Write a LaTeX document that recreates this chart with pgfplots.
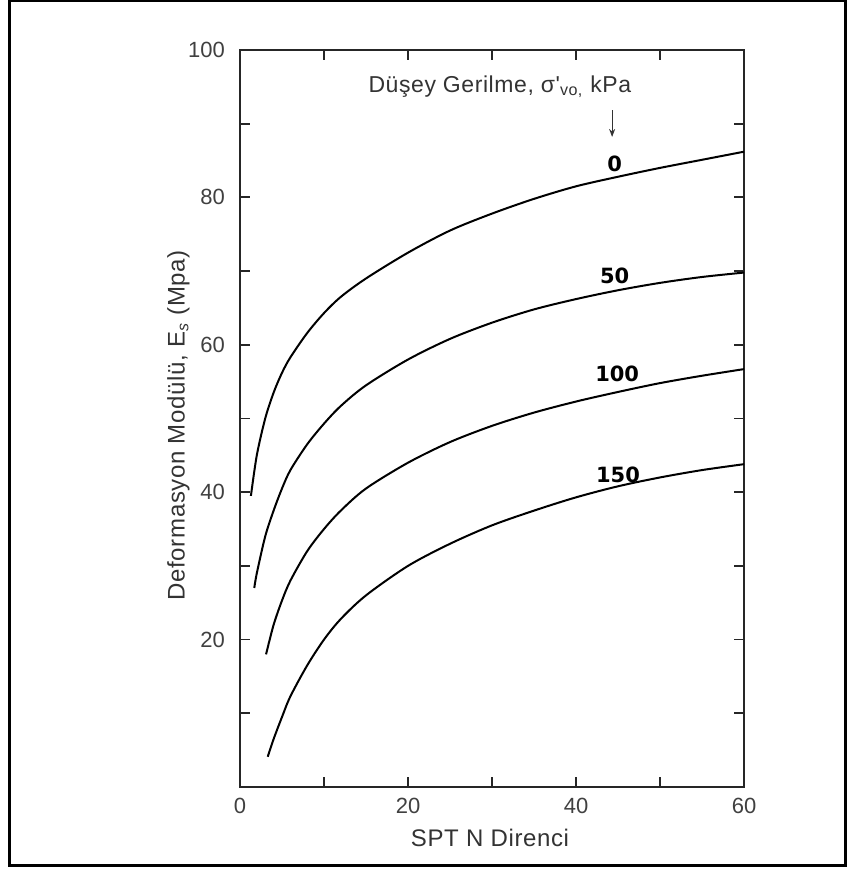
\documentclass[border=0pt]{standalone}
\usepackage{fontspec}
\setmainfont{Liberation Sans}
\newfontfamily\lblfont{DejaVu Sans}
\newfontfamily\widefont{Liberation Sans}[LetterSpace=2.5]
\usepackage{pgfplots}
\pgfplotsset{compat=1.18}
\usetikzlibrary{arrows.meta}
\begin{document}
\begin{tikzpicture}
\begin{axis}[
  at={(0pt,0pt)}, anchor=south west,
  scale only axis, width=252pt, height=368.5pt,
  xmin=0, xmax=60, ymin=0, ymax=100,
  xtick={0,20,40,60}, minor xtick={10,30,50},
  ytick={20,40,60,80,100}, minor ytick={10,30,50,70,90},
  tick align=inside, major tick length=5pt, minor tick length=5pt,
  every tick/.style={black!85, line width=0.9pt},
  axis line style={black!85, line width=1.3pt},
  /pgf/number format/assume math mode=true,
  every tick label/.append style={font=\fontsize{11}{13}\selectfont, text=black!75},
  yticklabel style={xshift=-4pt},
  xticklabel style={yshift=-2pt},
  label style={font=\widefont\fontsize{12}{14}\selectfont, text=black!80},
  xlabel={SPT N Direnci},
  ylabel={Deformasyon Modülü, E\textsubscript{\textit{s}} (Mpa)},
  xlabel style={at={(axis description cs:0.496,-0.069)}, anchor=center},
  ylabel style={at={(axis description cs:-0.122,0.491)}, anchor=center},
  clip=false,
]
% effective vertical stress 0 kPa
\addplot[smooth, black, line width=1pt] coordinates {
  (1.3,39.5) (2,45) (3,50) (4,53.5) (5,56.2) (6,58.3) (8,61.6) (10,64.3)
  (12,66.5) (15,69) (20,72.5) (25,75.5) (30,77.8) (35,79.8) (40,81.5)
  (45,82.8) (50,84) (55,85.1) (60,86.2)};
% 50 kPa
\addplot[smooth, black, line width=1pt] coordinates {
  (1.7,27) (2,29) (3,34) (4,37.5) (5,40.5) (6,43) (8,46.5) (10,49.3)
  (12,51.7) (15,54.5) (20,58) (25,60.8) (30,63) (35,64.8) (40,66.2)
  (45,67.4) (50,68.4) (55,69.2) (60,69.8)};
% 100 kPa
\addplot[smooth, black, line width=1pt] coordinates {
  (3.1,18) (4,22) (5,25.3) (6,28) (8,32) (10,35) (12,37.5) (15,40.5)
  (20,44) (25,46.8) (30,49) (35,50.8) (40,52.3) (45,53.6) (50,54.8)
  (55,55.8) (60,56.7)};
% 150 kPa
\addplot[smooth, black, line width=1pt] coordinates {
  (3.3,4.1) (4,6.5) (5,9.5) (6,12.3) (8,16.5) (10,20) (12,22.8) (15,26)
  (20,30) (25,33) (30,35.5) (35,37.5) (40,39.3) (45,40.8) (50,42)
  (55,43) (60,43.8)};
% curve labels
\node[font=\lblfont\bfseries\fontsize{10.5}{12}\selectfont] at (axis cs:44.6,84.5) {0};
\node[font=\lblfont\bfseries\fontsize{10.5}{12}\selectfont] at (axis cs:44.6,69.3) {50};
\node[font=\lblfont\bfseries\fontsize{10.5}{12}\selectfont] at (axis cs:44.9,56) {100};
\node[font=\lblfont\bfseries\fontsize{10.5}{12}\selectfont] at (axis cs:45,42.4) {150};
% heading for the curve labels, with its arrow
\node[anchor=east, font=\widefont\fontsize{11.5}{13}\selectfont, text=black!80] at (axis cs:47.4,95) {Düşey Gerilme, σ'\textsubscript{vo,} kPa};
\draw[-{Stealth[length=4pt,width=3pt]}, line width=0.6pt, black!80] (axis cs:44.3,91.8) -- (axis cs:44.3,88.2);
\end{axis}
% page and outer frame, measured from the lower left corner of the axis
\pgfresetboundingbox
\useasboundingbox (-120pt,-41.5pt) rectangle (303pt,393.5pt);
\draw[line width=1.5pt] (-115.25pt,-39.25pt) rectangle (302.5pt,393pt);
\end{tikzpicture}
\end{document}
